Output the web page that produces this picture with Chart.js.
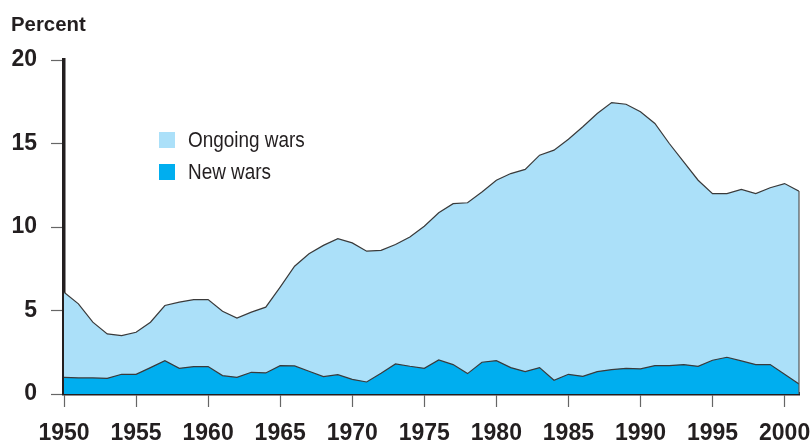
<!DOCTYPE html>
<html>
<head>
<meta charset="utf-8">
<script src="https://cdn.jsdelivr.net/npm/chart.js@4/dist/chart.umd.min.js"></script>
<style>
  body { margin: 0; background: #fff; }
  #wrap { position: relative; width: 810px; height: 441px; }
  #ytitle {
    position: absolute; left: 11px; top: 13px;
    font: bold 21px 'Liberation Sans', Arial, sans-serif; color: #231f20;
    line-height: 21px; transform: scaleX(0.97); transform-origin: left center;
  }
  #legend {
    position: absolute; left: 159px; top: 132px;
    font: 22px 'Liberation Sans', Arial, sans-serif; color: #231f20;
  }
  .row { display: flex; align-items: center; height: 16px; margin-bottom: 16px; white-space: nowrap; }
  .sw { width: 16px; height: 16px; margin-right: 13px; flex: none; }
  .txt { display: inline-block; transform: scaleX(0.86); transform-origin: left center; }
</style>
</head>
<body>
<div id="wrap">
  <canvas id="chart"></canvas>
  <div id="ytitle">Percent</div>
  <div id="legend">
    <div class="row"><span class="sw" style="background:#abe0f9"></span><span class="txt">Ongoing wars</span></div>
    <div class="row"><span class="sw" style="background:#00aeef"></span><span class="txt">New wars</span></div>
  </div>
</div>
<script>
const years = [1950, 1951, 1952, 1953, 1954, 1955, 1956, 1957, 1958, 1959,
               1960, 1961, 1962, 1963, 1964, 1965, 1966, 1967, 1968, 1969,
               1970, 1971, 1972, 1973, 1974, 1975, 1976, 1977, 1978, 1979,
               1980, 1981, 1982, 1983, 1984, 1985, 1986, 1987, 1988, 1989,
               1990, 1991, 1992, 1993, 1994, 1995, 1996, 1997, 1998, 1999,
               2000, 2001];

// top of the light area (all wars under way)
const ongoingWars = [6.1, 5.4, 4.3, 3.6, 3.5, 3.7, 4.3, 5.3, 5.5, 5.65,
                     5.65, 4.95, 4.55, 4.9, 5.2, 6.4, 7.65, 8.4, 8.9, 9.3,
                     9.05, 8.55, 8.6, 8.95, 9.4, 10.05, 10.85, 11.4, 11.45, 12.1,
                     12.8, 13.2, 13.45, 14.3, 14.6, 15.25, 16.0, 16.8, 17.45, 17.35,
                     16.9, 16.2, 15.0, 13.9, 12.8, 12.0, 12.0, 12.25, 12.0, 12.35,
                     12.6, 12.15];

const newWars = [1.0, 0.96, 0.96, 0.94, 1.18, 1.18, 1.58, 2.0, 1.54, 1.64,
                 1.64, 1.1, 1.0, 1.3, 1.26, 1.7, 1.68, 1.36, 1.04, 1.16,
                 0.88, 0.72, 1.24, 1.8, 1.66, 1.54, 2.04, 1.76, 1.22, 1.9,
                 2.0, 1.58, 1.34, 1.58, 0.82, 1.18, 1.06, 1.34, 1.46, 1.54,
                 1.5, 1.7, 1.7, 1.76, 1.66, 2.02, 2.2, 1.98, 1.76, 1.76,
                 1.18, 0.6];

const yTicks = [0, 5, 10, 15, 20];

const tickFont = { family: "'Liberation Sans', Arial, sans-serif", size: 23, weight: 'bold' };
const inkColor = '#231f20';

// closes the right end of the area with a thin line, like the print version
const edgeLine = {
    id: 'edgeLine',
    afterDatasetsDraw(chart) {
        const x = chart.scales.x.getPixelForValue(years[years.length - 1]);
        const yTop = chart.scales.y.getPixelForValue(ongoingWars[ongoingWars.length - 1]);
        const yBot = chart.scales.y.getPixelForValue(0);
        const ctx = chart.ctx;
        ctx.save();
        ctx.strokeStyle = '#555';
        ctx.lineWidth = 1.2;
        ctx.beginPath();
        ctx.moveTo(x, yTop);
        ctx.lineTo(x, yBot);
        ctx.stroke();
        ctx.restore();
    }
};

const ctx = document.getElementById('chart').getContext('2d');
new Chart(ctx, {
    type: 'line',
    data: {
        datasets: [{
            label: 'Ongoing wars',
            data: years.map((yr, i) => ({ x: yr, y: ongoingWars[i] })),
            backgroundColor: '#abe0f9',
            borderColor: '#3a3a3a',
            borderWidth: 1.2,
            fill: 'origin',
            pointRadius: 0,
            tension: 0,
            order: 2
        }, {
            label: 'New wars',
            data: years.map((yr, i) => ({ x: yr, y: newWars[i] })),
            backgroundColor: '#00aeef',
            borderColor: '#3a3a3a',
            borderWidth: 1.2,
            fill: 'origin',
            pointRadius: 0,
            tension: 0,
            order: 1
        }]
    },
    options: {
        responsive: true,
        maintainAspectRatio: false,
        animation: false,
        layout: { padding: { top: 60, right: 11, left: 0, bottom: 0 } },
        plugins: {
            legend: { display: false },
            tooltip: { enabled: false }
        },
        scales: {
            x: {
                type: 'linear',
                min: 1950,
                max: 2001,
                ticks: {
                    stepSize: 5,
                    includeBounds: false,
                    font: tickFont,
                    color: inkColor,
                    padding: 13,
                    maxRotation: 0,
                    callback: v => String(v)
                },
                grid: { drawOnChartArea: false, drawTicks: true, tickLength: 13, tickColor: '#666', tickWidth: 1.2 },
                border: { display: true, color: '#231f20', width: 3.5 },
                afterFit: s => { s.height = 47; s.paddingLeft = 0; s.paddingRight = 0; }
            },
            y: {
                min: 0,
                max: 20,
                afterBuildTicks: s => { s.ticks = yTicks.map(v => ({ value: v })); },
                ticks: {
                    font: tickFont,
                    color: inkColor,
                    padding: 14
                },
                grid: { drawOnChartArea: false, drawTicks: true, tickLength: 13, tickColor: '#666', tickWidth: 1.2 },
                border: { display: true, color: '#231f20', width: 3.5 },
                afterFit: s => { s.width = 64; s.paddingTop = 0; s.paddingBottom = 0; }
            }
        }
    },
    plugins: [edgeLine]
});
</script>
</body>
</html>
